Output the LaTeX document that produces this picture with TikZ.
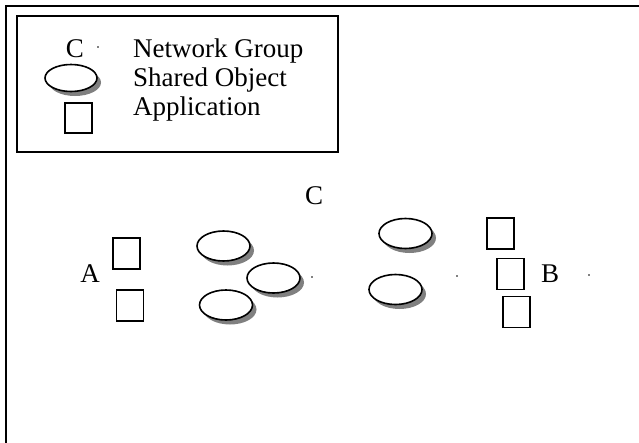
\documentclass[tikz,border=0pt]{standalone}
\usepackage{fontspec}
\setmainfont{Liberation Serif}
\usetikzlibrary{shapes.geometric,shadows}
\begin{document}
\begin{tikzpicture}[x=1pt,y=-1pt,
  every node/.style={inner sep=0pt,font=\fontsize{27}{29}\selectfont},
  sobj/.style={ellipse,draw,line width=1.6pt,fill=white,minimum width=53pt,minimum height=30pt,
    drop shadow={shadow xshift=4pt,shadow yshift=-4.5pt,fill=black!50,opacity=1}},
  app/.style={rectangle,draw,line width=1.5pt,minimum width=27pt,minimum height=31pt},
  pt/.style={circle,fill=black,minimum size=1.6pt},
  lbl/.style={anchor=base west}]
  \useasboundingbox (0,0) rectangle (639,442);
  % outer frame (runs off the right and bottom)
  \draw[line width=2pt] (6,450) -- (6,6) -- (650,6);
  % legend
  \node[draw,line width=2pt,minimum width=321pt,minimum height=136pt] (legend) at (177.5,84) {};
  \node (lgC) at (75,49) {C};
  \node[pt] (lgdot) at (98,47) {};
  \node[sobj,minimum width=52pt,minimum height=27pt] (lgobj) at (71,78) {};
  \node[app,minimum height=30pt] (lgapp) at (78.5,118) {};
  \node[lbl] (t1) at (133,57) {Network Group};
  \node[lbl] (t2) at (133,86) {Shared Object};
  \node[lbl] (t3) at (133,115) {Application};
  % network group C
  \node (C) at (314,196) {C};
  % applications at A
  \node (A) at (90,274) {A};
  \node[app] (a1) at (126.5,253.5) {};
  \node[app] (a2) at (130,305.5) {};
  % shared objects
  \node[sobj] (s1) at (223.5,246) {};
  \node[sobj] (s2) at (273.5,278) {};
  \node[sobj] (s3) at (226,305) {};
  \node[pt] (p1) at (312,277) {};
  \node[sobj] (s4) at (405.5,233.5) {};
  \node[sobj] (s5) at (395.5,289.5) {};
  \node[pt] (p2) at (457,276) {};
  % applications at B
  \node[app] (b1) at (500.5,233.5) {};
  \node[app] (b2) at (510.5,274) {};
  \node[app] (b3) at (516.5,312) {};
  \node (B) at (550,274) {B};
  \node[pt] (p3) at (589,275) {};
\end{tikzpicture}
\end{document}
